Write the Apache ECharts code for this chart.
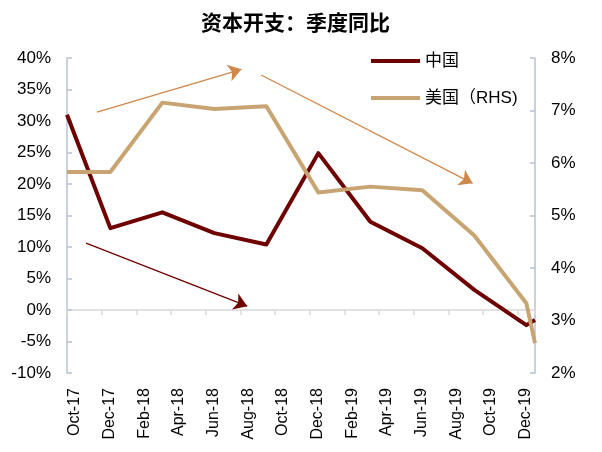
<!DOCTYPE html>
<html>
<head>
<meta charset="utf-8">
<script src="https://cdn.jsdelivr.net/npm/echarts@6/dist/echarts.min.js"></script>
<style>html,body{margin:0;padding:0;background:#fff;}#c{width:602px;height:452px;}</style>
</head>
<body>
<div id="c"></div>
<script>
// ---- data ----
var titleText = '资本开支：季度同比';
var seriesNames = ['中国', '美国（RHS)'];
var dates = ['2017-10-01','2017-12-16','2018-03-16','2018-06-16','2018-09-16','2018-12-16','2019-03-16','2019-06-16','2019-09-16','2019-12-16','2020-01-01'];
var chinaValues = [31.0, 13.0, 15.5, 12.2, 10.4, 24.9, 14.0, 9.8, 3.2, -2.4, -1.6];
var usValues = [5.83, 5.83, 7.15, 7.03, 7.08, 5.44, 5.55, 5.48, 4.62, 3.33, 2.57];
var xTickLabels = ['Oct-17','Dec-17','Feb-18','Apr-18','Jun-18','Aug-18','Oct-18','Dec-18','Feb-19','Apr-19','Jun-19','Aug-19','Oct-19','Dec-19'];
var axisStart = '2017-10-01';
var axisEnd = '2020-01-01';
// annotation arrows (start date, start value, end date, end value) on left axis
var arrowsStart = [['2017-11-04', 10.6], ['2017-11-23', 31.4], ['2018-09-07', 37.3]];
var arrowsEnd = [['2018-08-13', 0.6], ['2018-08-03', 38.2], ['2019-09-13', 20.1]];

// ---- helpers ----
function monthOffset(s) {
  var p = s.split('-').map(Number);
  var b = axisStart.split('-').map(Number);
  return (p[0] - b[0]) * 12 + (p[1] - b[1]) + (p[2] - 1) / 30;
}
var xs = dates.map(monthOffset);
var xMax = monthOffset(axisEnd);
function pairs(vals) { return vals.map(function (v, i) { return [xs[i], v]; }); }

var FONT = '"Liberation Sans", Arial, "Noto Sans CJK SC", sans-serif';
var CN = '"Noto Sans CJK SC", "Liberation Sans", sans-serif';
var red = '#6e0000', tan = '#c9a473', orange = '#d0874a';
var yAxisColor = '#b6c2d6';

var arrowColors = [red, orange, orange];
var arrowData = arrowsStart.map(function (s, i) {
  return [
    { coord: [monthOffset(s[0]), s[1]], lineStyle: { color: arrowColors[i], width: 1.3, type: 'solid' }, itemStyle: { color: arrowColors[i] } },
    { coord: [monthOffset(arrowsEnd[i][0]), arrowsEnd[i][1]], itemStyle: { color: arrowColors[i] } }
  ];
});

var chart = echarts.init(document.getElementById('c'), null, { renderer: 'canvas' });
chart.setOption({
  animation: false,
  backgroundColor: '#fff',
  title: {
    text: titleText, left: 196, top: 7,
    textStyle: { fontFamily: CN, fontSize: 21, fontWeight: 'bold', color: '#000' }
  },
  legend: {
    data: seriesNames, orient: 'vertical', left: 366, top: 46,
    icon: 'rect', itemWidth: 49, itemHeight: 4, itemGap: 17,
    textStyle: { fontFamily: FONT, fontSize: 17, color: '#000', lineHeight: 20 }
  },
  grid: { left: 67, right: 67, top: 58, bottom: 79 },
  xAxis: [
    {
      type: 'value', min: 0, max: xMax, interval: 2,
      axisLine: { show: true, onZero: true, onZeroAxisIndex: 0, lineStyle: { color: '#d9d9d9', width: 1.5 } },
      axisTick: { show: true, inside: false, length: 5, lineStyle: { color: '#d9d9d9', width: 1.5 } },
      axisLabel: { show: false }, splitLine: { show: false }
    },
    {
      type: 'value', min: 0, max: xMax, interval: 2, position: 'bottom',
      axisLine: { show: false, onZero: false }, axisTick: { show: false }, splitLine: { show: false },
      axisLabel: {
        show: true, rotate: 90, align: 'right', verticalAlign: 'top', margin: 15,
        fontFamily: FONT, fontSize: 16, color: '#000', showMaxLabel: false,
        formatter: function (v) { return (v % 2 === 0 && xTickLabels[v / 2]) ? xTickLabels[v / 2] : ''; }
      }
    }
  ],
  yAxis: [
    {
      type: 'value', min: -10, max: 40, interval: 5, position: 'left',
      axisLine: { show: true, onZero: false, lineStyle: { color: yAxisColor, width: 1.5 } },
      axisTick: { show: true, inside: true, length: 5, lineStyle: { color: yAxisColor, width: 1.5 } },
      splitLine: { show: false },
      axisLabel: { margin: 16, fontFamily: FONT, fontSize: 17, color: '#000', formatter: function (v) { return v + '%'; } }
    },
    {
      type: 'value', min: 2, max: 8, interval: 1, position: 'right',
      axisLine: { show: true, onZero: false, lineStyle: { color: yAxisColor, width: 1.5 } },
      axisTick: { show: true, inside: true, length: 5, lineStyle: { color: yAxisColor, width: 1.5 } },
      splitLine: { show: false },
      axisLabel: { margin: 16, fontFamily: FONT, fontSize: 17, color: '#000', formatter: function (v) { return v + '%'; } }
    }
  ],
  series: [
    {
      name: seriesNames[0], type: 'line', xAxisIndex: 0, yAxisIndex: 0,
      data: pairs(chinaValues), symbol: 'none', color: red,
      lineStyle: { color: red, width: 4, join: 'round' },
      markLine: {
        silent: true, symbol: ['none', 'arrow'], symbolSize: 13,
        label: { show: false }, emphasis: { disabled: true },
        data: arrowData
      }
    },
    {
      name: seriesNames[1], type: 'line', xAxisIndex: 0, yAxisIndex: 1,
      data: pairs(usValues), symbol: 'none', color: tan,
      lineStyle: { color: tan, width: 4, join: 'round' }
    }
  ]
});
</script>
</body>
</html>
